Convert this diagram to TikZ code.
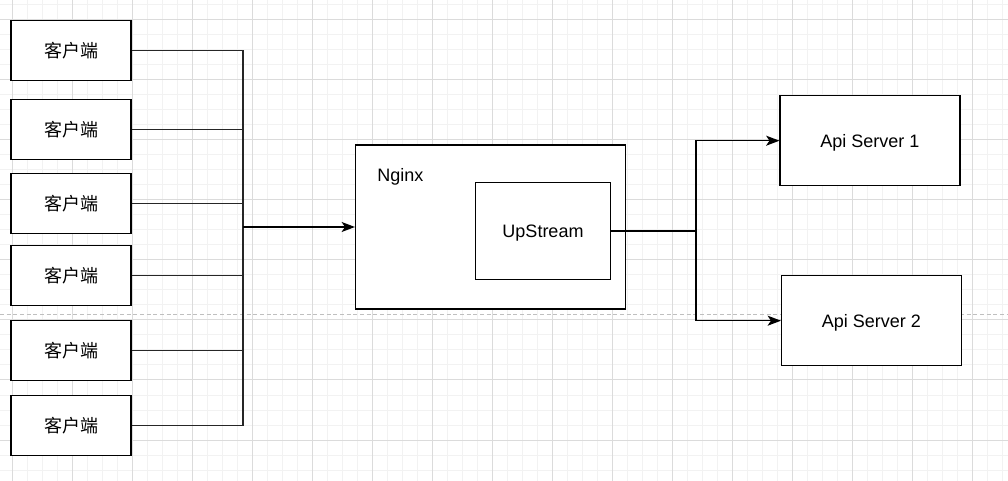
\documentclass[tikz,border=0pt]{standalone}
\usepackage{fontspec}
\setmainfont{Liberation Sans}
\newfontfamily\cjk{Noto Sans CJK SC}
\usetikzlibrary{arrows.meta}

\begin{document}
\begin{tikzpicture}[x=0.75pt, y=-0.75pt,
    txt/.style={text height=11pt, text depth=1.3pt, font=\fontsize{13.5}{16}\selectfont},
    box/.style={draw, line width=0.8pt, fill=white, inner sep=0pt, txt},
    client/.style={box, minimum width=90pt, minimum height=45pt, text height={}, text depth={},
      font=\cjk\fontsize{13.5}{16}\selectfont},
    server/.style={box, minimum width=135pt, minimum height=67.5pt},
    wire/.style={line width=1pt, draw=black!85},
    flow/.style={line width=1.1pt, -{Stealth[length=10pt, width=7.5pt, inset=2.5pt]}}]
    \useasboundingbox (0,0) rectangle (1008,481);
    % grid
    \foreach \x in {-3,12,...,1008} \draw [black!5, line width=0.75pt] (\x,0) -- (\x,481);
    \foreach \y in {5,20,...,481} \draw [black!5, line width=0.75pt] (0,\y) -- (1008,\y);
    \foreach \x in {12,72,...,1008} \draw [black!14, line width=0.75pt] (\x,0) -- (\x,481);
    \foreach \y in {20,80,...,481} \draw [black!14, line width=0.75pt] (0,\y) -- (1008,\y);
    \draw [black!25, dash pattern=on 3pt off 2pt, line width=0.75pt] (0,315) -- (1008,315);

    \coordinate (bus) at (243,0);
    \coordinate (fork) at (696,231);

    \foreach \i/\y in {1/50.5, 2/129.5, 3/203.5, 4/275.5, 5/350.5, 6/425.5}
        \node [client] (c\i) at (71,\y) {客户端};

    \node [box, minimum width=202.5pt, minimum height=123pt] (nginx) at (490.5,227) {};
    \node [anchor=west, txt, inner sep=0pt] (nginxlbl) at (377,175) {Nginx};
    \node [box, minimum width=101.5pt, minimum height=73pt] (up) at (543,231) {UpStream};

    \node [server] (api1) at (870,140.7) {Api Server 1};
    \node [server] (api2) at (871.5,320.7) {Api Server 2};

    % clients to nginx
    \foreach \i in {1,...,6}
        \draw [wire] (c\i.east) -- (c\i.east -| bus);
    \draw [wire] (c1.east -| bus) -- (c6.east -| bus);
    \draw [flow] (bus |- nginx.west) -- (nginx.west);

    % upstream to servers
    \draw [flow] (up.east) -- (fork) |- (api1.west);
    \draw [flow] (fork) |- (api2.west);
\end{tikzpicture}
\end{document}
